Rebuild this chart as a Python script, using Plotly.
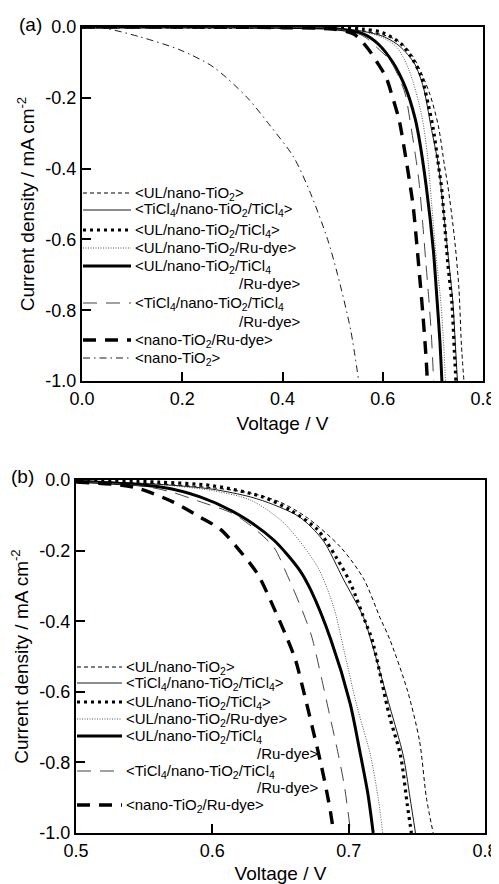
import plotly.graph_objects as go

FONT = "Liberation Sans, Arial, Helvetica, sans-serif"
PAGE_OFFSET = 8          # default body margin of the html page
W, H = 499 - PAGE_OFFSET, 884 - PAGE_OFFSET

# ---------------- data ----------------
# <UL/nano-TiO2>
V_ul = [0, 0.2, 0.4, 0.5, 0.56, 0.6, 0.628, 0.65, 0.67, 0.694, 0.711, 0.723, 0.730, 0.743, 0.752, 0.757, 0.762]
J_ul = [0, 0, -0.001, -0.004, -0.011, -0.022, -0.037, -0.063, -0.108, -0.19, -0.28, -0.39, -0.45, -0.595, -0.74, -0.90, -1.0]
# <TiCl4/nano-TiO2/TiCl4>
V_tt = [0, 0.2, 0.4, 0.5, 0.56, 0.6, 0.628, 0.645, 0.664, 0.681, 0.696, 0.711, 0.716, 0.730, 0.740, 0.745, 0.749]
J_tt = [0, 0, -0.001, -0.003, -0.012, -0.026, -0.048, -0.07, -0.105, -0.17, -0.28, -0.39, -0.45, -0.64, -0.78, -0.90, -1.0]
# <UL/nano-TiO2/TiCl4>
V_ult = [0, 0.2, 0.4, 0.5, 0.56, 0.6, 0.637, 0.657, 0.677, 0.691, 0.701, 0.713, 0.717, 0.730, 0.738, 0.743, 0.746]
J_ult = [0, 0, -0.001, -0.001, -0.006, -0.016, -0.048, -0.085, -0.14, -0.22, -0.29, -0.41, -0.45, -0.67, -0.78, -0.92, -1.0]
# <UL/nano-TiO2/Ru-dye>
V_ulr = [0, 0.2, 0.4, 0.5, 0.56, 0.6, 0.628, 0.652, 0.677, 0.689, 0.697, 0.706, 0.716, 0.722, 0.725]
J_ulr = [0, 0, -0.001, -0.003, -0.013, -0.03, -0.057, -0.12, -0.245, -0.36, -0.49, -0.64, -0.78, -0.91, -1.0]
# <UL/nano-TiO2/TiCl4/Ru-dye>
V_ultr = [0, 0.2, 0.4, 0.5, 0.562, 0.591, 0.62, 0.645, 0.664, 0.672, 0.687, 0.701, 0.708, 0.714, 0.718]
J_ultr = [0, 0, -0.001, -0.004, -0.02, -0.048, -0.10, -0.17, -0.255, -0.31, -0.453, -0.632, -0.765, -0.887, -1.0]
# <TiCl4/nano-TiO2/TiCl4/Ru-dye>
V_ttr = [0, 0.2, 0.4, 0.5, 0.55, 0.569, 0.59, 0.615, 0.63, 0.645, 0.655, 0.667, 0.673, 0.68, 0.686, 0.692, 0.697, 0.7015]
J_ttr = [0, 0, -0.001, -0.004, -0.018, -0.033, -0.06, -0.095, -0.135, -0.19, -0.27, -0.38, -0.445, -0.56, -0.665, -0.77, -0.87, -1.0]
# <nano-TiO2/Ru-dye>
V_nr = [0, 0.2, 0.4, 0.5, 0.542, 0.571, 0.591, 0.606, 0.62, 0.633, 0.646, 0.655, 0.661, 0.668, 0.673, 0.68, 0.686, 0.689]
J_nr = [0, 0, -0.002, -0.006, -0.02, -0.062, -0.105, -0.14, -0.2, -0.265, -0.37, -0.45, -0.51, -0.615, -0.695, -0.81, -0.925, -1.0]
# <nano-TiO2>
V_n = [0, 0.05, 0.116, 0.196, 0.262, 0.33, 0.376, 0.422, 0.456, 0.49, 0.51, 0.536, 0.552]
J_n = [0, -0.005, -0.028, -0.065, -0.113, -0.2, -0.28, -0.367, -0.47, -0.6, -0.7, -0.856, -1.0]

# legend labels: (first line, continuation line)
labels = [
    ("&lt;UL/nano-TiO<sub>2</sub>&gt;", None),
    ("&lt;TiCl<sub>4</sub>/nano-TiO<sub>2</sub>/TiCl<sub>4</sub>&gt;", None),
    ("&lt;UL/nano-TiO<sub>2</sub>/TiCl<sub>4</sub>&gt;", None),
    ("&lt;UL/nano-TiO<sub>2</sub>/Ru-dye&gt;", None),
    ("&lt;UL/nano-TiO<sub>2</sub>/TiCl<sub>4</sub>", "/Ru-dye&gt;"),
    ("&lt;TiCl<sub>4</sub>/nano-TiO<sub>2</sub>/TiCl<sub>4</sub>", "/Ru-dye&gt;"),
    ("&lt;nano-TiO<sub>2</sub>/Ru-dye&gt;", None),
    ("&lt;nano-TiO<sub>2</sub>&gt;", None),
]
plain_names = ["<UL/nano-TiO2>", "<TiCl4/nano-TiO2/TiCl4>", "<UL/nano-TiO2/TiCl4>",
               "<UL/nano-TiO2/Ru-dye>", "<UL/nano-TiO2/TiCl4/Ru-dye>",
               "<TiCl4/nano-TiO2/TiCl4/Ru-dye>", "<nano-TiO2/Ru-dye>", "<nano-TiO2>"]
series = [(V_ul, J_ul), (V_tt, J_tt), (V_ult, J_ult), (V_ulr, J_ulr),
          (V_ultr, J_ultr), (V_ttr, J_ttr), (V_nr, J_nr), (V_n, J_n)]
in_panel_b = [True, True, True, True, True, True, True, False]

xticks_a = [0, 0.2, 0.4, 0.6, 0.8]
xtext_a = ["0.0", "0.2", "0.4", "0.6", "0.8"]
xticks_b = [0.5, 0.6, 0.7, 0.8]
xtext_b = ["0.5", "0.6", "0.7", "0.8"]
yticks = [0, -0.2, -0.4, -0.6, -0.8, -1.0]
ytext = ["0.0", "-0.2", "-0.4", "-0.6", "-0.8", "-1.0"]

# ---------------- styles ----------------
styles = [
    dict(color="black", width=1.0, dash="4px,3px"),
    dict(color="black", width=0.9, dash="solid"),
    dict(color="black", width=3.2, dash="3px,4px"),
    dict(color="#444444", width=0.9, dash="1px,1.5px"),
    dict(color="black", width=3.0, dash="solid"),
    dict(color="#444444", width=1.0, dash="14px,9px"),
    dict(color="black", width=3.4, dash="13px,9px"),
    dict(color="black", width=0.9, dash="7px,4px,1.5px,4px"),
]

def px_x(p):
    # page pixel -> paper fraction
    return (p - PAGE_OFFSET) / W

def px_y(p):
    return 1 - (p - PAGE_OFFSET) / H

fig = go.Figure()
for i, (V, J) in enumerate(series):
    st = styles[i]
    fig.add_trace(go.Scatter(x=V, y=J, mode="lines", name=plain_names[i],
                             line=dict(color=st["color"], width=st["width"], dash=st["dash"], shape="spline", smoothing=0.8),
                             xaxis="x", yaxis="y", showlegend=False, hoverinfo="skip"))
for i, (V, J) in enumerate(series):
    if not in_panel_b[i]:
        continue
    st = styles[i]
    fig.add_trace(go.Scatter(x=V, y=J, mode="lines", name=plain_names[i],
                             line=dict(color=st["color"], width=st["width"], dash=st["dash"], shape="spline", smoothing=0.8),
                             xaxis="x2", yaxis="y2", showlegend=False, hoverinfo="skip"))

axis_common = dict(showgrid=False, zeroline=False, showline=True, linecolor="black", linewidth=2.2,
                   mirror=True, ticks="inside", ticklen=9, tickwidth=2, tickcolor="black", automargin=False,
                   tickfont=dict(family=FONT, size=18, color="black"))
title_font = dict(family=FONT, size=19, color="black")

fig.update_layout(
    width=W, height=H, margin=dict(l=0, r=0, t=0, b=0, autoexpand=False),
    paper_bgcolor="white", plot_bgcolor="white",
    font=dict(family=FONT, color="black"),
    xaxis=dict(domain=[px_x(82), px_x(483)], range=[0, 0.8], tickvals=xticks_a, ticktext=xtext_a,
               anchor="y", title=dict(text="Voltage / V", font=title_font, standoff=9), **axis_common),
    yaxis=dict(domain=[px_y(381), px_y(27)], range=[-1, 0], tickvals=yticks, ticktext=ytext,
               anchor="x", title=dict(text="Current density / mA cm<sup>-2</sup>", font=title_font, standoff=6), **axis_common),
    xaxis2=dict(domain=[px_x(76), px_x(485)], range=[0.5, 0.8], tickvals=xticks_b, ticktext=xtext_b,
                anchor="y2", title=dict(text="Voltage / V", font=title_font, standoff=9), **axis_common),
    yaxis2=dict(domain=[px_y(833), px_y(480)], range=[-1, 0], tickvals=yticks, ticktext=ytext,
                anchor="x2", title=dict(text="Current density / mA cm<sup>-2</sup>", font=title_font, standoff=6), **axis_common),
)

annotations = [
    dict(text="(a)", x=px_x(30), y=px_y(24), xref="paper", yref="paper", showarrow=False,
         font=dict(family=FONT, size=19, color="black"), xanchor="center", yanchor="middle"),
    dict(text="(b)", x=px_x(22), y=px_y(476), xref="paper", yref="paper", showarrow=False,
         font=dict(family=FONT, size=19, color="black"), xanchor="center", yanchor="middle"),
]
shapes = []

legend_a = dict(rows=[193, 210, 230, 248, 266, 303, 340, 358], cont=[None, None, None, None, 283, 322, None, None],
                tx=133, cx=237, s0=83, s1=131, n=8)
legend_b = dict(rows=[667, 683, 702, 719, 736, 771, 805], cont=[None, None, None, None, 753, 787, None],
                tx=124, cx=255, s0=77, s1=122, n=7)
leg_font = dict(family=FONT, size=15, color="black")
for lg in (legend_a, legend_b):
    for i in range(lg["n"]):
        st = styles[i]
        y = lg["rows"][i]
        first, cont = labels[i]
        shapes.append(dict(type="line", xref="paper", yref="paper", x0=px_x(lg["s0"]), x1=px_x(lg["s1"]),
                           y0=px_y(y), y1=px_y(y),
                           line=dict(color=st["color"], width=st["width"], dash=st["dash"])))
        annotations.append(dict(text=first, x=px_x(lg["tx"]), y=px_y(y), xref="paper", yref="paper",
                                showarrow=False, font=leg_font, xanchor="left", yanchor="middle"))
        if cont is not None:
            annotations.append(dict(text=cont, x=px_x(lg["cx"]), y=px_y(lg["cont"][i]), xref="paper", yref="paper",
                                    showarrow=False, font=leg_font, xanchor="left", yanchor="middle"))

fig.update_layout(annotations=annotations, shapes=shapes)
fig.write_html("out.html")
